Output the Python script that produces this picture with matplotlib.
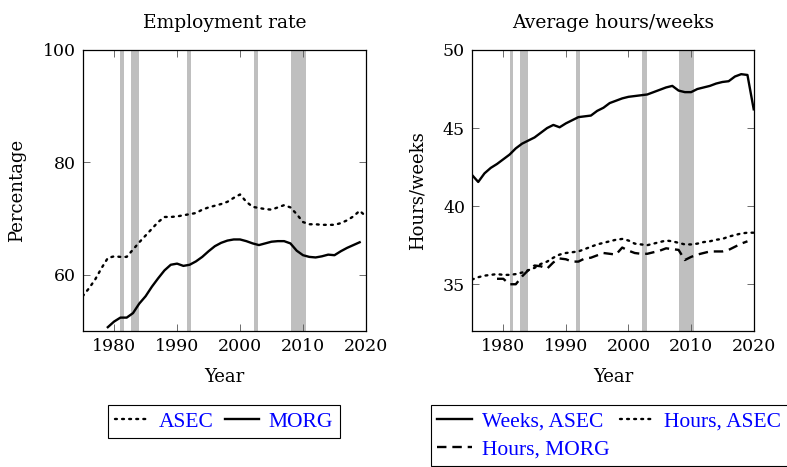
import numpy as np
import matplotlib
matplotlib.use("Agg")
import matplotlib.pyplot as plt

plt.rcParams['font.family'] = ['DejaVu Serif']
plt.rcParams['font.size'] = 12

# employment rate, ASEC (1975-2020) and MORG (1979-2019)
years_asec = list(range(1975, 2021))
emp_asec = [56.2, 57.6, 59.2, 61.2, 63.0, 63.3, 63.2, 63.2, 64.5, 65.8,
            67.0, 68.2, 69.4, 70.3, 70.3, 70.4, 70.6, 70.8, 71.0, 71.6,
            72.0, 72.3, 72.6, 73.0, 73.7, 74.3, 73.0, 72.1, 71.9, 71.7,
            71.6, 72.0, 72.4, 72.0, 70.8, 69.4, 69.0, 69.0, 68.9, 68.9,
            68.9, 69.2, 69.7, 70.4, 71.4, 70.4]
years_morg = list(range(1979, 2020))
emp_morg = [50.7, 51.7, 52.4, 52.4, 53.2, 54.9, 56.2, 57.9, 59.4, 60.8,
            61.8, 62.0, 61.6, 61.8, 62.4, 63.2, 64.2, 65.1, 65.7, 66.1,
            66.3, 66.3, 66.0, 65.6, 65.3, 65.6, 65.9, 66.0, 66.0, 65.6,
            64.3, 63.5, 63.2, 63.1, 63.3, 63.6, 63.5, 64.2, 64.8, 65.3,
            65.8]

# weeks / hours
weeks_asec = [42.0, 41.55, 42.1, 42.45, 42.7, 43.0, 43.3, 43.7, 44.0, 44.2,
              44.4, 44.7, 45.0, 45.2, 45.05, 45.3, 45.5, 45.7, 45.75, 45.8,
              46.1, 46.3, 46.6, 46.75, 46.9, 47.0, 47.05, 47.1, 47.15, 47.3,
              47.45, 47.6, 47.7, 47.4, 47.3, 47.3, 47.5, 47.6, 47.7, 47.85,
              47.95, 48.0, 48.3, 48.45, 48.4, 46.2]
hours_asec = [35.3, 35.45, 35.55, 35.6, 35.65, 35.6, 35.6, 35.65, 35.75, 35.9,
              36.05, 36.3, 36.45, 36.7, 36.9, 37.0, 37.05, 37.1, 37.25, 37.4,
              37.55, 37.65, 37.75, 37.85, 37.9, 37.8, 37.6, 37.55, 37.5, 37.6,
              37.7, 37.8, 37.75, 37.65, 37.55, 37.55, 37.6, 37.7, 37.75, 37.85,
              37.9, 38.05, 38.15, 38.25, 38.3, 38.3]
hours_morg = [35.35, 35.35, 35.0, 35.0, 35.5, 35.9, 36.2, 36.15, 36.0, 36.4,
              36.65, 36.6, 36.45, 36.45, 36.65, 36.7, 36.85, 37.0, 36.95, 36.9,
              37.35, 37.15, 37.0, 36.95, 36.95, 37.05, 37.15, 37.3, 37.25, 37.2,
              36.55, 36.75, 36.9, 37.0, 37.1, 37.1, 37.1, 37.2, 37.4, 37.6,
              37.75]

# recession bands (start, end)
recessions = [(1981.0, 1981.6), (1982.7, 1983.9), (1991.6, 1992.2),
              (2002.2, 2002.9), (2008.1, 2010.5)]

fig = plt.figure(figsize=(7.87, 4.67), dpi=100)
ax1 = fig.add_axes([0.105, 0.291, 0.360, 0.602])
ax2 = fig.add_axes([0.5997, 0.291, 0.358, 0.602])

for ax in (ax1, ax2):
    for s, e in recessions:
        ax.axvspan(s, e, color='#bfbfbf', lw=0, zorder=1)
    ax.set_xlim(1975, 2020)
    ax.set_xticks([1980, 1990, 2000, 2010, 2020])
    ax.tick_params(direction='in', top=True, right=True, length=5, width=0.6,
                   color='#555555', labelsize=12.5, pad=5)
    for sp in ax.spines.values():
        sp.set_linewidth(0.9)
    ax.set_xlabel('Year', fontsize=13, labelpad=9)

dots = (0, (0.8, 2.2))
ax1.plot(years_asec, emp_asec, color='black', lw=1.7, ls=dots,
         dash_capstyle='round', label='ASEC', zorder=3)
ax1.plot(years_morg, emp_morg, color='black', lw=1.7, label='MORG', zorder=3)
ax1.set_ylim(50, 100)
ax1.set_yticks([60, 80, 100])
ax1.set_ylabel('Percentage', fontsize=13, labelpad=12)
ax1.set_title('Employment rate', fontsize=13.5, pad=16)

ax2.plot(years_asec, weeks_asec, color='black', lw=1.7, label='Weeks, ASEC', zorder=3)
ax2.plot(years_asec, hours_asec, color='black', lw=1.7, ls=dots,
         dash_capstyle='round', label='Hours, ASEC', zorder=3)
ax2.plot(years_morg, hours_morg, color='black', lw=1.7, ls=(0, (4, 2.5)),
         label='Hours, MORG', zorder=3)
ax2.set_ylim(32, 50)
ax2.set_yticks([35, 40, 45, 50])
ax2.set_ylabel('Hours/weeks', fontsize=13, labelpad=12)
ax2.set_title('Average hours/weeks', fontsize=13.5, pad=16)

leg_kw = dict(frameon=True, fancybox=False, edgecolor='black', framealpha=1,
              prop={'family': 'Liberation Serif', 'size': 15.5},
              handlelength=1.6, handletextpad=0.45, columnspacing=0.5,
              borderpad=0.3, labelspacing=0.35, borderaxespad=0,
              labelcolor='blue')
h1, l1 = ax1.get_legend_handles_labels()
leg1 = fig.legend(h1, l1, ncol=2, loc='upper center',
                  bbox_to_anchor=(0.2846, 0.1328), **leg_kw)
leg1.get_frame().set_linewidth(0.8)
h2, l2 = ax2.get_legend_handles_labels()
# legend fills by column: reorder so rows read Weeks ASEC, Hours ASEC / Hours MORG
order = [0, 2, 1]
leg2 = fig.legend([h2[i] for i in order], [l2[i] for i in order], ncol=2,
                  loc='upper left', bbox_to_anchor=(0.5476, 0.1328), **leg_kw)
leg2.get_frame().set_linewidth(0.8)

fig.savefig('out.png', dpi=100)
